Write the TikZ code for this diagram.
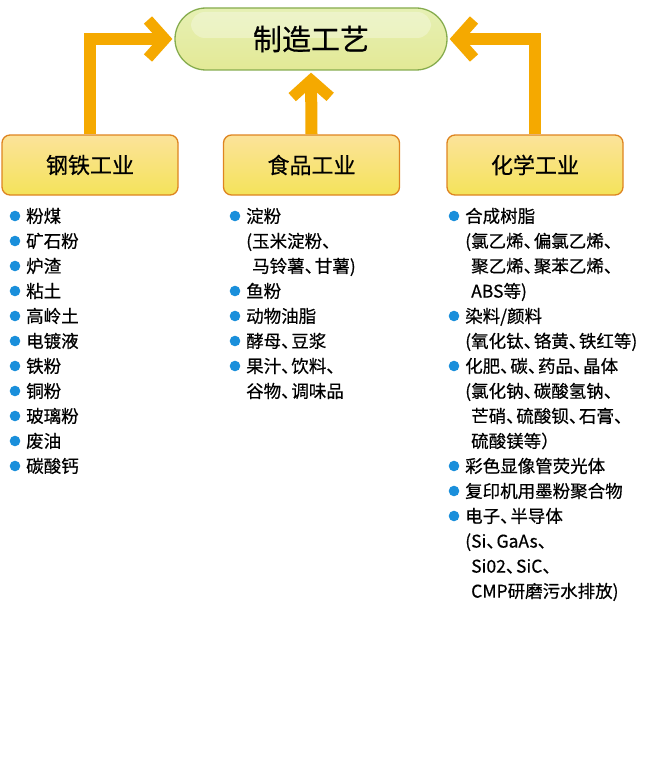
\documentclass[tikz,border=0pt]{standalone}
\usepackage{fontspec}
\setmainfont{Noto Sans CJK SC}[FakeBold=0.5]
\usetikzlibrary{arrows.meta}
\definecolor{flowo}{HTML}{F5A900}
\definecolor{goalline}{HTML}{86AC4E}
\definecolor{goaltop}{HTML}{E6F0B4}
\definecolor{goalmid}{HTML}{CADC7A}
\definecolor{goalbot}{HTML}{E3E996}
\definecolor{boxline}{HTML}{DE8420}
\definecolor{boxtop}{HTML}{FCE39A}
\definecolor{boxmid}{HTML}{F3C52E}
\definecolor{boxbot}{HTML}{F4E35A}
\definecolor{dotblue}{HTML}{1A8FDB}
\newcommand\dun{、\kern-.42em}
\tikzset{
  goal/.style={draw=goalline, line width=1.3pt, rounded corners=31pt,
    minimum width=272pt, minimum height=62pt,
    top color=goaltop, middle color=goalmid, bottom color=goalbot,
    font=\fontsize{29}{29}\selectfont,
    path picture={\fill[white, opacity=0.3, rounded corners=14pt]
      ([xshift=16pt, yshift=-4pt]path picture bounding box.north west) rectangle
      ([xshift=-16pt, yshift=-30pt]path picture bounding box.north east);}},
  sector/.style={draw=boxline, line width=1.3pt, rounded corners=8pt,
    minimum width=176pt, minimum height=60pt,
    top color=boxtop, middle color=boxmid, bottom color=boxbot,
    font=\fontsize{22}{22}\selectfont},
  flow/.style={draw=flowo, line width=12pt, shorten >=2pt,
    -{Straight Barb[length=17pt, width=38pt, line width=11pt]}},
  item/.style={anchor=base west, inner sep=0pt, font=\fontsize{17.5}{17.5}\selectfont},
  dot/.style={fill=dotblue}
}
\begin{document}
\begin{tikzpicture}[x=1pt, y=-1pt]
  \useasboundingbox (0,0) rectangle (661,757);

  \node[goal] (goal) at (311,39) {制造工艺};
  \node[sector] (steel) at (90,165) {钢铁工业};
  \node[sector] (food) at (311.5,165) {食品工业};
  \node[sector] (chem) at (535,165) {化学工业};

  \draw[flow] (steel.north) |- (goal.west);
  \draw[flow] (food.north) -- (goal.south);
  \draw[flow] (chem.north) |- (goal.east);

  \foreach \t [count=\i] in {粉煤, 矿石粉, 炉渣, 粘土, 高岭土, 电镀液,
      铁粉, 铜粉, 玻璃粉, 废油, 碳酸钙} {
    \fill[dot] (15,{216+25*(\i-1)}) circle (5.3);
    \node[item] (steel-\i) at (26,{222.6+25*(\i-1)}) {\t};
  }

  \foreach \b/\t [count=\i] in {1/淀粉, 0/{(玉米淀粉\dun}, 2/{马铃薯\dun 甘薯)},
      1/鱼粉, 1/动物油脂, 1/酵母\dun 豆浆, 1/果汁\dun 饮料\dun, 0/谷物\dun 调味品} {
    \ifnum\b=1 \fill[dot] (235,{216+25*(\i-1)}) circle (5.3); \fi
    \node[item] (food-\i) at ({246+(\b==2)*6},{222.6+25*(\i-1)}) {\t};
  }

  \foreach \b/\t [count=\i] in {1/合成树脂, 0/{(氯乙烯\dun 偏氯乙烯\dun},
      2/聚乙烯\dun 聚苯乙烯\dun, 2/{ABS等)}, 1/{染料/颜料},
      0/{(氧化钛\dun 铬黄\dun 铁红等)}, 1/化肥\dun 碳\dun 药品\dun 晶体,
      0/{(氯化钠\dun 碳酸氢钠\dun}, 2/芒硝\dun 硫酸钡\dun 石膏\dun, 2/硫酸镁等）,
      1/彩色显像管荧光体, 1/复印机用墨粉聚合物, 1/电子\dun 半导体,
      0/{(Si\dun GaAs\dun}, 2/Si02\dun SiC\dun, 2/{CMP研磨污水排放)}} {
    \ifnum\b=1 \fill[dot] (454,{216+25*(\i-1)}) circle (5.3); \fi
    \node[item] (chem-\i) at ({465+(\b==2)*6},{222.6+25*(\i-1)}) {\t};
  }
\end{tikzpicture}
\end{document}
